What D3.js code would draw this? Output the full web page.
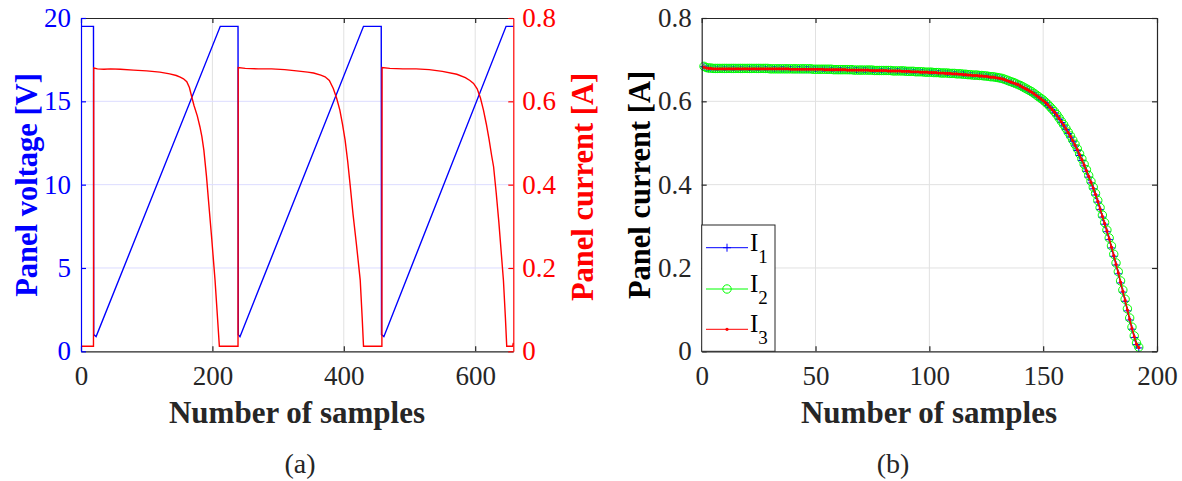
<!DOCTYPE html>
<html>
<head>
<meta charset="utf-8">
<script src="https://cdn.jsdelivr.net/npm/d3@7"></script>
<style>
  body { margin: 0; background: #fff; }
  svg { display: block; }
  svg text { font-family: 'Liberation Serif', 'DejaVu Serif', serif; }
</style>
</head>
<body>
<svg width="1182" height="481"></svg>
<script>
var AXC = "#262626";

// ---- (a) panel voltage / current vs samples: [sample, value]
var panelVoltage = [
  [0,19.5],[19,19.5],[19.4,1.0],[23,0.88],[212,19.5],[239,19.5],
  [239.4,1.0],[242,0.88],[430,19.5],[457,19.5],[457.4,1.0],[461,0.88],
  [647,19.5],[658,19.5]
];
var panelCurrent = [
  [0,0.012],[19,0.012],[19.3,0.680],[25,0.678],[35,0.677],[45,0.678],[60,0.677],
  [80,0.675],[100,0.673],[120,0.670],[135,0.666],[145,0.662],[151,0.658],[156,0.654],
  [161,0.647],[165,0.633],[168.5,0.611],[172,0.590],[177,0.565],[181,0.539],[184,0.515],
  [187,0.483],[191,0.420],[194,0.363],[199,0.270],[204,0.171],[208,0.075],[210.6,0.012],
  [239,0.012],[239.3,0.681],[250,0.679],[270,0.678],[290,0.678],[310,0.676],[328,0.673],
  [345,0.670],[354,0.668],[365,0.663],[371.5,0.659],[378,0.650],[384,0.631],[389,0.608],
  [394,0.579],[398,0.545],[402,0.507],[406,0.455],[409.6,0.400],[414,0.330],[419,0.260],
  [425,0.171],[428,0.080],[430,0.012],[458,0.012],[458.3,0.681],[470,0.679],[490,0.678],
  [510,0.678],[530,0.676],[550,0.672],[572,0.665],[585,0.657],[592,0.650],[597.5,0.643],
  [603,0.630],[608,0.608],[612.6,0.579],[617,0.545],[621,0.510],[625,0.470],[628,0.443],
  [632,0.380],[636,0.310],[640,0.230],[643,0.170],[646,0.080],[648,0.012],[657,0.012],
  [658,0.02]
];
var xTicksA = [0, 200, 400, 600];
var vTicks = [0, 5, 10, 15, 20];
var iTicks = [0, 0.2, 0.4, 0.6, 0.8];

// ---- (b) panel current, three measurements, samples 1..192
var I1 = [
.683,.680,.679,.679,.678,.678,.678,.678,.678,.678,
.678,.678,.678,.678,.678,.678,.678,.678,.678,.678,
.678,.678,.678,.678,.678,.678,.678,.678,.678,.678,
.678,.678,.678,.678,.678,.678,.678,.678,.678,.677,
.677,.677,.677,.677,.677,.677,.677,.677,.677,.677,
.677,.677,.677,.677,.676,.676,.676,.676,.676,.676,
.676,.676,.676,.676,.675,.675,.675,.675,.675,.675,
.675,.675,.675,.675,.674,.674,.674,.674,.674,.674,
.674,.674,.673,.673,.673,.673,.673,.673,.672,.672,
.672,.672,.671,.671,.671,.671,.670,.670,.670,.670,
.669,.669,.669,.668,.668,.668,.668,.667,.667,.667,
.666,.666,.666,.665,.665,.664,.664,.663,.663,.662,
.662,.662,.661,.661,.660,.660,.659,.658,.657,.656,
.655,.653,.651,.649,.647,.645,.643,.641,.639,.636,
.633,.630,.627,.624,.621,.617,.613,.609,.605,.601,
.596,.590,.585,.579,.572,.565,.557,.549,.541,.532,
.523,.514,.504,.493,.482,.470,.458,.445,.432,.418,
.404,.390,.375,.358,.340,.322,.305,.287,.268,.248,
.228,.207,.186,.164,.142,.120,.097,.075,.053,.033,
.016,.008];
var I2 = [
.684,.681,.680,.680,.679,.679,.679,.679,.679,.679,
.679,.679,.679,.679,.679,.679,.679,.679,.679,.679,
.679,.679,.679,.679,.679,.679,.679,.679,.679,.678,
.678,.678,.678,.678,.678,.678,.678,.678,.678,.678,
.678,.678,.678,.678,.678,.678,.678,.678,.677,.677,
.677,.677,.677,.677,.677,.677,.677,.676,.676,.676,
.676,.676,.676,.676,.676,.676,.675,.675,.675,.675,
.675,.675,.675,.675,.675,.674,.674,.674,.674,.674,
.674,.674,.674,.673,.673,.673,.673,.673,.673,.672,
.672,.672,.672,.671,.671,.671,.671,.670,.670,.670,
.670,.669,.669,.669,.668,.668,.668,.668,.667,.667,
.667,.666,.666,.666,.665,.665,.664,.664,.663,.663,
.663,.662,.662,.661,.661,.660,.659,.659,.658,.657,
.656,.655,.653,.651,.649,.647,.645,.643,.640,.638,
.635,.632,.629,.626,.623,.619,.615,.611,.607,.603,
.598,.593,.587,.581,.575,.568,.560,.552,.544,.535,
.526,.517,.507,.497,.486,.474,.462,.449,.436,.422,
.408,.394,.379,.362,.345,.327,.309,.291,.272,.253,
.233,.212,.191,.169,.147,.125,.102,.080,.058,.037,
.020,.010];
var I3 = [
.682,.680,.679,.679,.678,.678,.678,.678,.678,.678,
.678,.678,.678,.678,.678,.678,.678,.678,.678,.678,
.678,.678,.678,.678,.678,.678,.678,.678,.678,.678,
.678,.678,.678,.678,.678,.678,.678,.678,.677,.677,
.677,.677,.677,.677,.677,.677,.677,.677,.677,.677,
.677,.677,.677,.676,.676,.676,.676,.676,.676,.676,
.676,.676,.676,.675,.675,.675,.675,.675,.675,.675,
.675,.675,.675,.674,.674,.674,.674,.674,.674,.674,
.674,.673,.673,.673,.673,.673,.673,.672,.672,.672,
.672,.671,.671,.671,.671,.670,.670,.670,.670,.669,
.669,.669,.669,.668,.668,.668,.667,.667,.667,.666,
.666,.666,.665,.665,.664,.664,.663,.663,.662,.662,
.662,.661,.661,.660,.660,.659,.658,.658,.657,.656,
.655,.654,.652,.650,.648,.646,.644,.642,.640,.637,
.634,.631,.628,.625,.622,.618,.614,.610,.606,.602,
.597,.592,.586,.580,.574,.567,.559,.551,.543,.534,
.525,.516,.506,.495,.484,.472,.460,.447,.434,.420,
.406,.392,.377,.360,.342,.324,.307,.289,.270,.250,
.230,.209,.188,.166,.144,.122,.099,.077,.055,.035,
.017,.009];
var xTicksB = [0, 50, 100, 150, 200];
var yTicksB = [0, 0.2, 0.4, 0.6, 0.8];
var seriesB = [
  { name: "1", values: I1, color: "#0000ff", marker: "plus" },
  { name: "2", values: I2, color: "#00ff00", marker: "circle" },
  { name: "3", values: I3, color: "#ff0000", marker: "dot" }
];

var svg = d3.select("svg");

function styleAxis(g, color) {
  g.attr("font-family", null).attr("font-size", null);
  g.select(".domain").attr("stroke", color).attr("stroke-width", 1.2);
  g.selectAll(".tick line").attr("stroke", color).attr("stroke-width", 1.2);
  g.selectAll(".tick text").attr("fill", color).style("font-size", "27px");
}

// ================= (a) =================
var xA = d3.scaleLinear().domain([0, 658]).range([81, 513.3]);
var yV = d3.scaleLinear().domain([0, 20]).range([351.3, 18]);
var yI = d3.scaleLinear().domain([0, 0.8]).range([351.3, 18]);

var gA = svg.append("g");

// grid
gA.append("g").selectAll("line").data(xTicksA.slice(1)).enter().append("line")
  .attr("x1", function(d) { return xA(d); }).attr("x2", function(d) { return xA(d); })
  .attr("y1", yV(0)).attr("y2", yV(20))
  .attr("stroke", "#e1e1e1").attr("stroke-width", 1);
gA.append("g").selectAll("line").data(vTicks.slice(1, -1)).enter().append("line")
  .attr("x1", xA.range()[0]).attr("x2", xA.range()[1])
  .attr("y1", function(d) { return yV(d); }).attr("y2", function(d) { return yV(d); })
  .attr("stroke", "#dcdcff").attr("stroke-width", 1);

gA.append("path").datum(panelVoltage)
  .attr("fill", "none").attr("stroke", "#0000ff").attr("stroke-width", 1.4)
  .attr("d", d3.line().x(function(d) { return xA(d[0]); }).y(function(d) { return yV(d[1]); }));
gA.append("path").datum(panelCurrent)
  .attr("fill", "none").attr("stroke", "#ff0000").attr("stroke-width", 1.4)
  .attr("d", d3.line().x(function(d) { return xA(d[0]); }).y(function(d) { return yI(d[1]); }));

// axes
gA.append("g").attr("transform", "translate(0," + yV(0) + ")")
  .call(d3.axisBottom(xA).tickValues(xTicksA).tickSize(-5).tickSizeOuter(0).tickPadding(15))
  .call(styleAxis, AXC);
gA.append("g").attr("transform", "translate(0," + yV(20) + ")")
  .call(d3.axisTop(xA).tickValues(xTicksA).tickSize(-5).tickSizeOuter(0).tickFormat(""))
  .call(styleAxis, AXC);
gA.append("g").attr("transform", "translate(" + xA(0) + ",0)")
  .call(d3.axisLeft(yV).tickValues(vTicks).tickSize(-5).tickSizeOuter(0).tickPadding(10))
  .call(styleAxis, "#0000ff");
gA.append("g").attr("transform", "translate(" + xA.range()[1] + ",0)")
  .call(d3.axisRight(yI).tickValues(iTicks).tickSize(-5).tickSizeOuter(0).tickPadding(9)
    .tickFormat(function(d) { return String(d); }))
  .call(styleAxis, "#ff0000");

gA.append("text").attr("x", 297).attr("y", 423)
  .attr("text-anchor", "middle").attr("fill", AXC)
  .style("font-size", "31px").style("font-weight", "bold")
  .text("Number of samples");
gA.append("text").attr("transform", "translate(37,185) rotate(-90)")
  .attr("text-anchor", "middle").attr("fill", "#0000ff")
  .style("font-size", "30.5px").style("font-weight", "bold")
  .text("Panel voltage [V]");
gA.append("text").attr("transform", "translate(593,187) rotate(-90)")
  .attr("text-anchor", "middle").attr("fill", "#ff0000")
  .style("font-size", "30.5px").style("font-weight", "bold")
  .text("Panel current [A]");
gA.append("text").attr("x", 300).attr("y", 473)
  .attr("text-anchor", "middle").attr("fill", AXC)
  .style("font-size", "28px")
  .text("(a)");

// ================= (b) =================
var xB = d3.scaleLinear().domain([0, 200]).range([701.7, 1157]);
var yB = d3.scaleLinear().domain([0, 0.8]).range([351.3, 18]);

var gB = svg.append("g");

gB.append("g").selectAll("line").data(xTicksB.slice(1, -1)).enter().append("line")
  .attr("x1", function(d) { return xB(d); }).attr("x2", function(d) { return xB(d); })
  .attr("y1", yB(0)).attr("y2", yB(0.8))
  .attr("stroke", "#e1e1e1").attr("stroke-width", 1);
gB.append("g").selectAll("line").data(yTicksB.slice(1, -1)).enter().append("line")
  .attr("x1", xB(0)).attr("x2", xB(200))
  .attr("y1", function(d) { return yB(d); }).attr("y2", function(d) { return yB(d); })
  .attr("stroke", "#e1e1e1").attr("stroke-width", 1);

var lineB = d3.line()
  .x(function(d, i) { return xB(i + 1); })
  .y(function(d) { return yB(d); });

function drawMarker(g, type, color, x, y) {
  if (type === "plus") {
    g.append("path").attr("d", "M" + (x - 4) + "," + y + "H" + (x + 4) + "M" + x + "," + (y - 4) + "V" + (y + 4))
      .attr("stroke", color).attr("stroke-width", 1);
  } else if (type === "circle") {
    g.append("circle").attr("cx", x).attr("cy", y).attr("r", 4.2)
      .attr("fill", "none").attr("stroke", color).attr("stroke-width", 1);
  } else {
    g.append("circle").attr("cx", x).attr("cy", y).attr("r", 1.6).attr("fill", color);
  }
}

seriesB.forEach(function(s) {
  var g = gB.append("g");
  g.append("path").datum(s.values)
    .attr("fill", "none").attr("stroke", s.color).attr("stroke-width", s.marker === "dot" ? 1.5 : 1)
    .attr("d", lineB);
  s.values.forEach(function(v, i) {
    drawMarker(g, s.marker, s.color, xB(i + 1), yB(v));
  });
});

// axes box
gB.append("g").attr("transform", "translate(0," + yB(0) + ")")
  .call(d3.axisBottom(xB).tickValues(xTicksB).tickSize(-5).tickSizeOuter(0).tickPadding(15))
  .call(styleAxis, AXC);
gB.append("g").attr("transform", "translate(0," + yB(0.8) + ")")
  .call(d3.axisTop(xB).tickValues(xTicksB).tickSize(-5).tickSizeOuter(0).tickFormat(""))
  .call(styleAxis, AXC);
gB.append("g").attr("transform", "translate(" + xB(0) + ",0)")
  .call(d3.axisLeft(yB).tickValues(yTicksB).tickSize(-5).tickSizeOuter(0).tickPadding(10)
    .tickFormat(function(d) { return String(d); }))
  .call(styleAxis, AXC);
gB.append("g").attr("transform", "translate(" + xB(200) + ",0)")
  .call(d3.axisRight(yB).tickValues(yTicksB).tickSize(-5).tickSizeOuter(0).tickFormat(""))
  .call(styleAxis, AXC);

gB.append("text").attr("x", 929).attr("y", 423)
  .attr("text-anchor", "middle").attr("fill", AXC)
  .style("font-size", "31px").style("font-weight", "bold")
  .text("Number of samples");
gB.append("text").attr("transform", "translate(650,185) rotate(-90)")
  .attr("text-anchor", "middle").attr("fill", "#000")
  .style("font-size", "30.5px").style("font-weight", "bold")
  .text("Panel current [A]");
gB.append("text").attr("x", 893).attr("y", 473)
  .attr("text-anchor", "middle").attr("fill", AXC)
  .style("font-size", "28px")
  .text("(b)");

// legend
var leg = gB.append("g");
leg.append("rect").attr("x", 701.7).attr("y", 225).attr("width", 73.3).attr("height", 126.3)
  .attr("fill", "#fff").attr("stroke", AXC).attr("stroke-width", 1);
var legY = [247.7, 289, 329.3];
seriesB.forEach(function(s, i) {
  var y = legY[i];
  leg.append("line").attr("x1", 706).attr("x2", 748).attr("y1", y).attr("y2", y)
    .attr("stroke", s.color).attr("stroke-width", 1);
  drawMarker(leg, s.marker, s.color, 727, y);
  var t = leg.append("text").attr("x", 750).attr("y", y + 3).attr("fill", "#000")
    .style("font-size", "25px");
  t.append("tspan").text("I");
  t.append("tspan").attr("dy", 12).style("font-size", "19px").text(s.name);
});
</script>
</body>
</html>
